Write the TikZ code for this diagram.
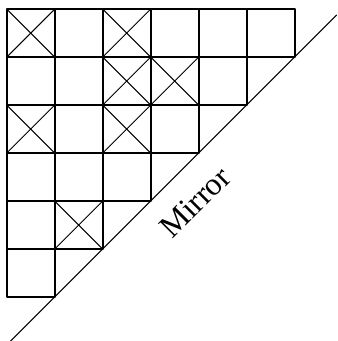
\documentclass[tikz,border=0pt]{standalone}
\usepackage{fontspec}
\setmainfont{Liberation Serif}
\begin{document}
\begin{tikzpicture}[
  gridline/.style={line width=1.3pt, line cap=round, line join=round},
  crossline/.style={line width=0.6pt},
  mirrorline/.style={line width=0.6pt},
  label/.style={font=\fontsize{19}{19}\selectfont, inner sep=0pt}
]
\useasboundingbox (-0.14,0.19) rectangle (6.90,-6.917);
% staircase grid
\foreach \r in {1,...,6}{
  \pgfmathtruncatemacro{\n}{7-\r}
  \foreach \c in {1,...,\n}{
    \draw[gridline] (\c-1,-\r+1) rectangle (\c,-\r);
  }
}
% crosses
\foreach \c/\r in {1/1,3/1,3/2,4/2,1/3,3/3,2/5}{
  \draw[crossline] (\c-1,-\r+1) -- (\c,-\r);
  \draw[crossline] (\c-1,-\r) -- (\c,-\r+1);
}
% mirror
\coordinate (mA) at (0.07,-6.93);
\coordinate (mB) at (6.88,-0.12);
\draw[mirrorline] (mA) -- (mB);
\node[label, anchor=base, rotate=45] (mirror) at (4.08,-4.18) {Mirror};
\end{tikzpicture}
\end{document}
